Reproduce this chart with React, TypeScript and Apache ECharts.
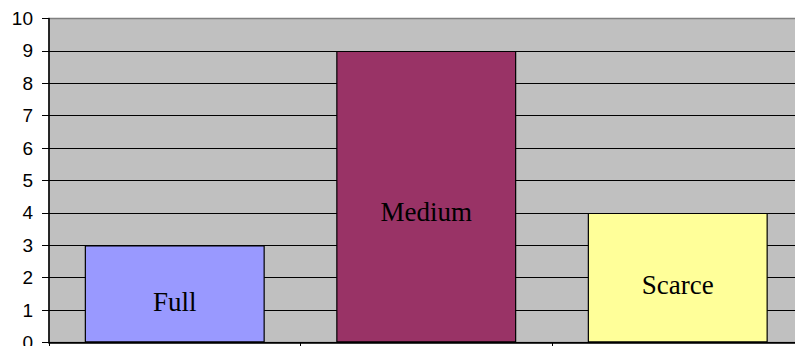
import React, { useEffect, useRef } from "react";
import * as echarts from "echarts";

const categories = ["Full", "Medium", "Scarce"];
const values = [3, 9, 4];
const barColors = ["#9999FF", "#993366", "#FFFF99"];
const yMin = 0;
const yMax = 10;
const yInterval = 1;
const labelDy = [8, 15, 7];

export default function App() {
  const ref = useRef<HTMLDivElement>(null);
  useEffect(() => {
    if (!ref.current) return;
    const chart = echarts.init(ref.current, undefined, { renderer: "svg" });
    chart.setOption({
      animation: false,
      grid: {
        left: 49,
        top: 18.5,
        width: 754.5,
        height: 324,
        show: true,
        backgroundColor: "#C0C0C0",
        borderColor: "#808080",
        borderWidth: 1.5,
        containLabel: false,
        outerBoundsMode: "none",
      },
      xAxis: {
        type: "category",
        data: categories,
        axisLine: { show: true, lineStyle: { color: "#000", width: 1.5 } },
        axisTick: { show: true, length: 5, lineStyle: { color: "#000", width: 1 } },
        axisLabel: { show: false },
        splitLine: { show: false },
      },
      yAxis: {
        type: "value",
        min: yMin,
        max: yMax,
        interval: yInterval,
        axisLine: { show: true, lineStyle: { color: "#000", width: 1.5 } },
        axisTick: { show: true, length: 7, lineStyle: { color: "#000", width: 1 } },
        axisLabel: {
          color: "#000",
          fontFamily: "Liberation Sans, Arial, sans-serif",
          fontSize: 19,
          margin: 16,
        },
        splitLine: {
          show: true,
          showMaxLine: false,
          lineStyle: { color: "#000", width: 1.2 },
        },
      },
      series: [
        {
          type: "bar",
          barWidth: 180,
          data: values.map((v, i) => ({
            value: v,
            itemStyle: { color: barColors[i] },
            label: { offset: [0, labelDy[i]] },
          })),
          itemStyle: { borderColor: "#000", borderWidth: 1.2 },
          label: {
            show: true,
            position: "inside",
            formatter: (p: any) => categories[p.dataIndex],
            color: "#000",
            fontFamily: "Liberation Serif, Times New Roman, serif",
            fontSize: 27,
          },
        },
      ],
    });
    return () => chart.dispose();
  }, []);
  return (
    <div
      ref={ref}
      style={{ position: "fixed", left: 0, top: 0, width: 795, height: 346, background: "#fff" }}
    />
  );
}
